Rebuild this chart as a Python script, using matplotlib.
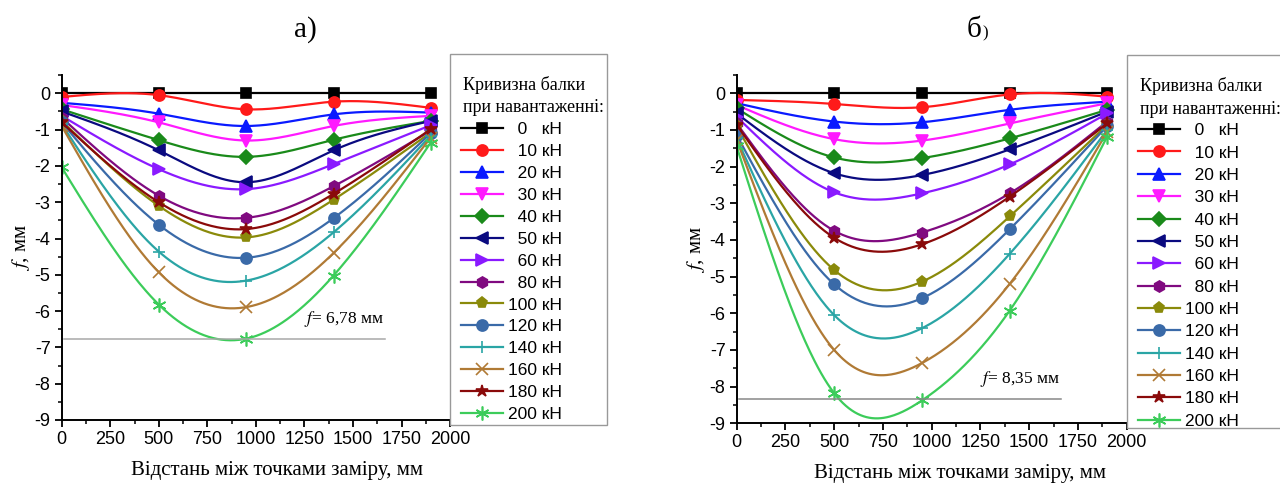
import numpy as np
import matplotlib
matplotlib.use("Agg")
import matplotlib.pyplot as plt
from matplotlib.patches import Rectangle

plt.rcParams['font.family'] = ['Liberation Sans', 'DejaVu Sans']
plt.rcParams['mathtext.fontset'] = 'stix'

# distance of measuring points, mm
x_pts = [0, 500, 950, 1400, 1900]
loads = [0, 10, 20, 30, 40, 50, 60, 80, 100, 120, 140, 160, 180, 200]

# deflection, mm  (panel a)
f_a = {
    0:   [0.0, 0.0, 0.0, 0.0, 0.0],
    10:  [-0.10, -0.05, -0.44, -0.23, -0.40],
    20:  [-0.26, -0.56, -0.90, -0.58, -0.53],
    30:  [-0.32, -0.80, -1.30, -0.90, -0.62],
    40:  [-0.44, -1.29, -1.75, -1.28, -0.76],
    50:  [-0.50, -1.57, -2.45, -1.57, -0.76],
    60:  [-0.62, -2.09, -2.64, -1.95, -0.88],
    80:  [-0.67, -2.82, -3.43, -2.56, -1.03],
    100: [-0.76, -3.10, -3.97, -2.93, -1.08],
    120: [-0.80, -3.62, -4.53, -3.44, -1.10],
    140: [-0.85, -4.36, -5.16, -3.83, -1.17],
    160: [-0.90, -4.93, -5.89, -4.40, -1.22],
    180: [-0.80, -3.00, -3.74, -2.77, -0.99],
    200: [-2.04, -5.82, -6.76, -5.02, -1.36],
}

# deflection, mm  (panel б)
f_b = {
    0:   [0.0, 0.0, 0.0, 0.0, 0.0],
    10:  [-0.18, -0.29, -0.38, -0.03, -0.09],
    20:  [-0.27, -0.77, -0.79, -0.45, -0.23],
    30:  [-0.32, -1.25, -1.29, -0.82, -0.27],
    40:  [-0.41, -1.75, -1.77, -1.23, -0.45],
    50:  [-0.55, -2.18, -2.23, -1.53, -0.50],
    60:  [-0.64, -2.70, -2.73, -1.94, -0.55],
    80:  [-0.82, -3.75, -3.80, -2.73, -0.77],
    100: [-0.90, -4.82, -5.14, -3.36, -0.86],
    120: [-1.14, -5.21, -5.59, -3.71, -0.89],
    140: [-1.23, -6.05, -6.41, -4.38, -1.00],
    160: [-1.27, -7.00, -7.36, -5.20, -1.05],
    180: [-0.86, -3.94, -4.12, -2.82, -0.82],
    200: [-1.45, -8.18, -8.38, -5.93, -1.18],
}

f_max_a = 6.78
f_max_b = 8.35

colors = {0: '#000000', 10: '#ff1a1a', 20: '#0a1aff', 30: '#ff1aff', 40: '#1a8a1a',
          50: '#0a0a80', 60: '#8a1aff', 80: '#800a80', 100: '#8a8a0a', 120: '#3a6aa8',
          140: '#2aa5a5', 160: '#b07a35', 180: '#8a0a0a', 200: '#3ccc5a'}
markers = {0: 's', 10: 'o', 20: '^', 30: 'v', 40: 'D', 50: '<', 60: '>', 80: 'h',
           100: 'p', 120: 'o', 140: '+', 160: 'x', 180: '*', 200: (6, 2, 0)}
msizes = {0: 7, 10: 8, 20: 8, 30: 8, 40: 7, 50: 8, 60: 8, 80: 8, 100: 8, 120: 8,
          140: 9, 160: 9, 180: 9, 200: 10}


def spline(x, y, n=60):
    # natural cubic spline, returns dense curve and indices of the nodes
    x = np.asarray(x, float)
    y = np.asarray(y, float)
    h = np.diff(x)
    m = len(x)
    A = np.zeros((m, m))
    r = np.zeros(m)
    A[0, 0] = A[-1, -1] = 1
    for i in range(1, m - 1):
        A[i, i - 1] = h[i - 1]
        A[i, i] = 2 * (h[i - 1] + h[i])
        A[i, i + 1] = h[i]
        r[i] = 3 * ((y[i + 1] - y[i]) / h[i] - (y[i] - y[i - 1]) / h[i - 1])
    c = np.linalg.solve(A, r)
    b = (y[1:] - y[:-1]) / h - h * (2 * c[:-1] + c[1:]) / 3
    d = (c[1:] - c[:-1]) / (3 * h)
    xs, ys, idx = [], [], []
    for i in range(m - 1):
        t = np.linspace(0, h[i], n, endpoint=False)
        idx.append(len(xs))
        xs.extend(x[i] + t)
        ys.extend(y[i] + b[i] * t + c[i] * t ** 2 + d[i] * t ** 3)
    idx.append(len(xs))
    xs.append(x[-1])
    ys.append(y[-1])
    return np.array(xs), np.array(ys), idx


def label(k):
    s = str(k)
    if k == 0:
        return '\u20070\u2007 кН'
    if k < 100:
        return '\u2007' + s + ' кН'
    return s + ' кН'


W, H = 1280, 487
fig = plt.figure(figsize=(12.8, 4.87), dpi=100)
ax1 = fig.add_axes([0.0482, 0.1376, 0.3034, 0.708])
ax2 = fig.add_axes([0.5755, 0.131, 0.3047, 0.715])

# axes, data, f max, line colour, legend box (x0, y0, x1, y1 px), title x, title y's, entry top, spacing
panels = [(ax1, f_a, f_max_a, '#a8a8a8', (450, 54, 607, 425), 463, (85, 108), 122, 0.39, 0.555),
          (ax2, f_b, f_max_b, '#888888', (1127, 55, 1290, 428), 1140, (86, 110), 123, 0.415, 0.573)]

for ax, data, fmax, gcol, box, tx, tys, etop, lsp, xlx in panels:
    for k in loads:
        xs, ys, idx = spline(x_pts, data[k])
        ax.plot(xs, ys, color=colors[k], lw=1.6, marker=markers[k], markevery=idx,
                ms=msizes[k], mew=1.2, label=label(k))
    ax.plot([10, 1665], [-fmax, -fmax], color=gcol, lw=1.1)
    ax.text(1250, -fmax + 0.55, '$f$= ' + ('%.2f' % fmax).replace('.', ',') + ' мм',
            family='Liberation Serif', fontsize=12.5, va='center')
    ax.set_xlim(0, 1970)
    ax.set_ylim(-9, 0.5)
    ax.set_xticks(np.arange(0, 2001, 250))
    ax.set_xticks(np.arange(125, 2000, 250), minor=True)
    ax.set_yticks(np.arange(-9, 0.1, 1))
    ax.set_yticks(np.arange(-8.5, 0.6, 1), minor=True)
    ax.set_yticklabels([str(v) for v in range(-9, 1)])
    for s in ['top', 'right']:
        ax.spines[s].set_visible(False)
    for s in ['left', 'bottom']:
        ax.spines[s].set_linewidth(1.4)
    ax.tick_params(which='major', direction='out', length=5, width=1.3, labelsize=13,
                   pad=3)
    ax.tick_params(which='minor', direction='out', length=3, width=1.1)
    ax.set_xlabel('Відстань між точками заміру, мм', family='Liberation Serif',
                  fontsize=15, labelpad=9, x=xlx)
    ax.set_ylabel('$f$, мм', family='Liberation Serif', fontsize=15, labelpad=2)

    # legend frame and title
    x0, y0, x1, y1 = box
    fig.patches.append(Rectangle((x0 / W, 1 - y1 / H), (x1 - x0) / W, (y1 - y0) / H,
                                 transform=fig.transFigure, facecolor='white',
                                 edgecolor='#999999', lw=1.0, zorder=3))
    fig.text(tx / W, 1 - tys[0] / H, 'Кривизна балки', family='Liberation Serif',
             fontsize=13, va='center', zorder=4)
    fig.text(tx / W, 1 - tys[1] / H, 'при навантаженні:', family='Liberation Serif',
             fontsize=13, va='center', zorder=4)
    h, l = ax.get_legend_handles_labels()
    leg = fig.legend(h, l, loc='upper left', bbox_to_anchor=((x0 + 11) / W, 1 - etop / H),
                     frameon=False, fontsize=12.5, labelspacing=lsp,
                     handlelength=2.4, handletextpad=0.3, borderaxespad=0,
                     borderpad=0)
    leg.set_zorder(5)

fig.text(305 / W, 1 - 30 / H, 'а)', family='Liberation Serif', fontsize=21,
         ha='center', va='center')
fig.text(982 / W, 1 - 30 / H, 'б', family='Liberation Serif', fontsize=21,
         ha='right', va='center')
fig.text(982 / W, 1 - 33 / H, ')', family='Liberation Serif', fontsize=12,
         ha='left', va='center')

fig.savefig('out.png', dpi=100)
